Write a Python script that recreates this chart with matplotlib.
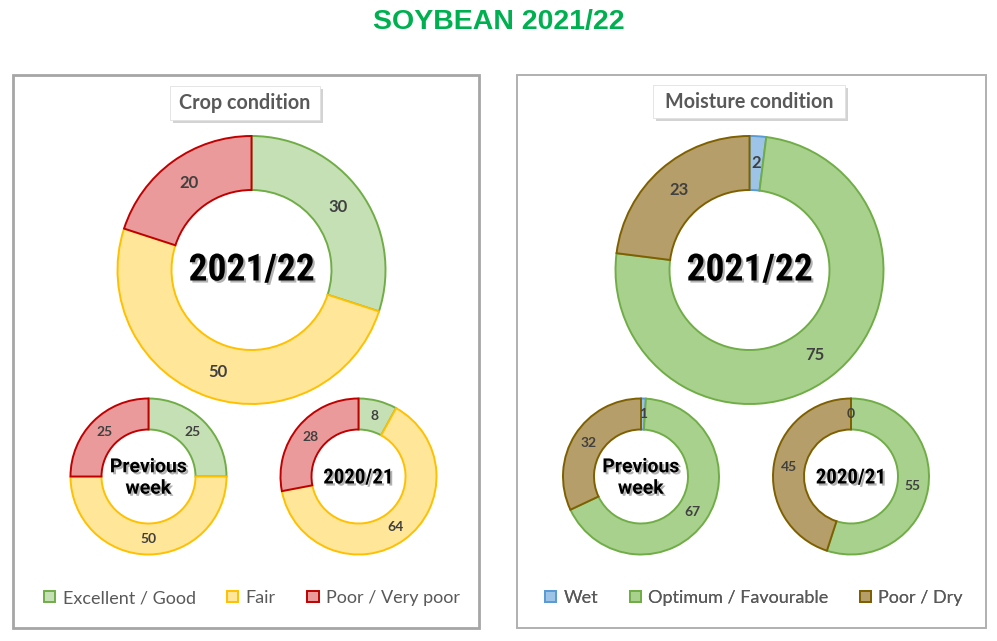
import matplotlib
matplotlib.use("Agg")
import matplotlib.pyplot as plt
import matplotlib.patheffects as pe
from matplotlib.patches import Rectangle
from matplotlib import font_manager as fm

# ---------------- data ----------------
crop_labels = ["Excellent / Good", "Fair", "Poor / Very poor"]
crop_current = [30, 50, 20]
crop_prev_week = [25, 50, 25]
crop_last_year = [8, 64, 28]

moist_labels = ["Wet", "Optimum / Favourable", "Poor / Dry"]
moist_current = [2, 75, 23]
moist_prev_week = [1, 67, 32]
moist_last_year = [0, 55, 45]

title = "SOYBEAN 2021/22"
panel_titles = ["Crop condition", "Moisture condition"]
center_big = "2021/22"
center_prev = "Previous\nweek"
center_last = "2020/21"

# ---------------- styles ----------------
crop_fill = ["#C5E0B4", "#FFE699", "#EA9A9A"]
crop_edge = ["#70AD47", "#FFC000", "#C00000"]
moist_fill = ["#9DC3E6", "#A9D18E", "#B59E69"]
moist_edge = ["#5B9BD5", "#70AD47", "#7F6000"]

names = {f.name for f in fm.fontManager.ttflist}
cond_font = "Roboto"
for cand in ["Liberation Sans Narrow", "Roboto Condensed", "DejaVu Sans Condensed"]:
    if cand in names:
        cond_font = cand
        break
word_font = "Roboto" if "Roboto" in names else "DejaVu Sans"
ui_font = "Lato" if "Lato" in names else "DejaVu Sans"

W, H = 997, 641
fig = plt.figure(figsize=(W / 100, H / 100), dpi=100)
ax = fig.add_axes([0, 0, 1, 1])


def Y(ypx):
    return H - ypx


def donut(values, fills, edges, cx, cy, r, w, fs, weight):
    wedges, texts = ax.pie(
        values, labels=[str(v) for v in values], colors=fills,
        startangle=90, counterclock=False, center=(cx, Y(cy)), radius=r,
        labeldistance=(r - w / 2) / r,
        wedgeprops=dict(width=w, linewidth=1.4),
        textprops=dict(fontsize=fs, color="#404040", fontweight=weight,
                       family=ui_font))
    for wdg, ec in zip(wedges, edges):
        wdg.set_edgecolor(ec)
    for t in texts:
        t.set_ha("center")
        t.set_va("center")
    return wedges


shadow_txt = [pe.withSimplePatchShadow(offset=(1.5, -1.5), shadow_rgbFace="#808080", alpha=0.6)]


def center_text(txt, cx, cy, fs, family, ls=1.0):
    ax.text(cx, Y(cy), txt, ha="center", va="center", fontsize=fs,
            fontweight="bold", family=family, color="black",
            linespacing=ls, path_effects=shadow_txt, zorder=5)


# panel boxes
for (x0, x1, lw, col) in [(13, 479, 2.0, "#A6A6A6"), (517, 986, 1.4, "#B0B0B0")]:
    ax.add_patch(Rectangle((x0, Y(628)), x1 - x0, 628 - 75, fill=False,
                           edgecolor=col, linewidth=lw, zorder=1))

# panel title boxes
for (x0, x1, y0, y1, txt) in [(170, 320, 86, 120, panel_titles[0]),
                              (653, 845, 85, 118, panel_titles[1])]:
    ax.add_patch(Rectangle((x0 + 3, Y(y1 + 3)), x1 - x0, y1 - y0,
                           facecolor="#C8C8C8", edgecolor="none", alpha=0.8, zorder=2))
    ax.add_patch(Rectangle((x0, Y(y1)), x1 - x0, y1 - y0,
                           facecolor="white", edgecolor="#E0E0E0", linewidth=0.6, zorder=3))
    ax.text((x0 + x1) / 2, Y((y0 + y1) / 2), txt, ha="center", va="center",
            fontsize=14.2, fontweight="bold", color="#595959", family=ui_font, zorder=4)

# crop condition
wc = donut(crop_current, crop_fill, crop_edge, 251.5, 270, 134, 54, 12, "bold")
donut(crop_prev_week, crop_fill, crop_edge, 148.5, 476.5, 78, 31, 10, "bold")
donut(crop_last_year, crop_fill, crop_edge, 358.5, 476.5, 78, 31, 10, "bold")
center_text(center_big, 251.5, 270, 27, cond_font)
center_text(center_prev, 148.5, 478, 14, word_font, 1.25)
center_text(center_last, 358.5, 478, 15, cond_font)

# moisture condition
wm = donut(moist_current, moist_fill, moist_edge, 749.5, 270, 134, 54, 12, "bold")
donut(moist_prev_week, moist_fill, moist_edge, 641, 476.5, 78, 31, 10, "bold")
donut(moist_last_year, moist_fill, moist_edge, 851, 476.5, 78, 31, 10, "bold")
center_text(center_big, 749.5, 270, 27, cond_font)
center_text(center_prev, 641, 478, 14, word_font, 1.25)
center_text(center_last, 851, 478, 15, cond_font)

# legends
for handles, labels, cx in [(wc, crop_labels, 252), (wm, moist_labels, 754)]:
    leg = ax.legend(handles, labels, loc="center", bbox_to_anchor=(cx, Y(598)),
                    bbox_transform=ax.transData, ncol=3, frameon=False,
                    handlelength=0.62, handleheight=0.62, handletextpad=0.4,
                    columnspacing=1.75,
                    prop=dict(family=ui_font, size=13))
    for t in leg.get_texts():
        t.set_color("#595959")
    ax.add_artist(leg)

fig.text(0.5, 1 - 22 / H, title, ha="center", va="center", fontsize=20.5,
         fontweight="bold", color="#00B050", family="Liberation Sans")

ax.set_xlim(0, W)
ax.set_ylim(0, H)
ax.set_aspect("equal")
ax.axis("off")
fig.savefig("out.png", dpi=100, facecolor="white")
